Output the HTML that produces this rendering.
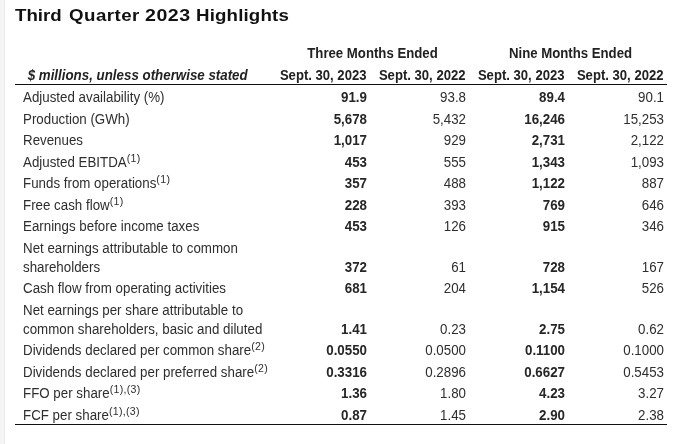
<!DOCTYPE html>
<html><head><meta charset="utf-8">
<style>
html,body{margin:0;padding:0;background:#fff;}
body{width:700px;height:444px;overflow:hidden;position:relative;font-family:"Liberation Sans",sans-serif;}
.wrap{position:absolute;left:0;top:0;width:700px;height:444px;will-change:transform;}
.band{position:absolute;left:0;top:0;width:4px;height:444px;background:#f5f5f5;border-right:1px solid #ececec;}
h1{position:absolute;left:0;top:5px;margin:0;font-size:17px;line-height:22px;font-weight:bold;color:#111;white-space:nowrap;width:300px;height:22px;}
h1 span{position:absolute;top:0;transform-origin:0 0;}
table{position:absolute;left:15px;top:42px;width:652px;border-collapse:collapse;font-size:13.33px;color:#2e2e2e;table-layout:fixed;}
td,th{padding:0;line-height:19.25px;vertical-align:bottom;white-space:nowrap;}
th{font-weight:bold;color:#222;}
tr.h1 th{height:21px;text-align:center;padding-left:5px;font-size:13.2px;}
tr.h2 th{height:21px;text-align:right;padding-right:3.5px;line-height:17.5px;font-size:13.1px;}
tr.h2 th.l{text-align:left;padding-left:12.7px;font-style:italic;font-size:13.33px;}
tr.h2{border-bottom:1px solid #111;}
tbody td{height:19.25px;text-align:right;padding:1.1px 3px 1.1px 0;}
tbody tr:first-child td{padding-top:1.6px;padding-bottom:2.1px;}
tbody td.l{text-align:left;padding-left:8px;white-space:nowrap;}
tbody td.b{font-weight:bold;color:#262626;}
tbody tr:last-child{border-bottom:1px solid #111;}
tbody tr:last-child td{padding-bottom:0;}
td.l i{font-style:normal;position:relative;top:1.5px;display:inline-block;}
sup{font-size:10.6px;letter-spacing:0.3px;line-height:0;vertical-align:baseline;position:relative;top:-5.4px;}
td.l i.s2{top:1px;}
tr.dn td{position:relative;top:0;}
tr.h1 th{transform:scaleY(1.065);transform-origin:50% 16px;}
tr.h2 th{transform:scaleY(1.065);transform-origin:50% 17px;}
tbody td{transform:scaleY(1.06);transform-origin:50% -3px;}
tbody tr:first-child td{transform-origin:50% -2.5px;}
tbody tr.two td{transform-origin:50% 16px;}
tbody tr.two td.l{transform:none;line-height:18.2px;padding:2.15px 0 2.15px 8px;}
tbody tr.two td.l i{transform:scaleY(1.06);transform-origin:50% 50%;}
</style></head><body>
<div class="band"></div>
<div class="wrap">
<h1><span style="left:15px;transform:scaleX(1.1)">Third</span> <span style="left:68.8px;letter-spacing:0.42px;transform:scaleX(1.1)">Quarter</span> <span style="left:145px;letter-spacing:0.45px;transform:scaleX(1.15)">2023</span> <span style="left:196.3px;letter-spacing:0.14px;transform:scaleX(1.1)">Highlights</span></h1>
<table>
<colgroup><col style="width:256px"><col style="width:99px"><col style="width:99px"><col style="width:99px"><col style="width:99px"></colgroup>
<thead>
<tr class="h1"><th></th><th colspan="2">Three Months Ended</th><th colspan="2">Nine Months Ended</th></tr>
<tr class="h2"><th class="l">$ millions, unless otherwise stated</th><th>Sept. 30, 2023</th><th>Sept. 30, 2022</th><th>Sept. 30, 2023</th><th>Sept. 30, 2022</th></tr>
</thead>
<tbody>
<tr><td class="l">Adjusted availability (%)</td><td class="b">91.9</td><td>93.8</td><td class="b">89.4</td><td>90.1</td></tr>
<tr><td class="l">Production (GWh)</td><td class="b">5,678</td><td>5,432</td><td class="b">16,246</td><td>15,253</td></tr>
<tr><td class="l">Revenues</td><td class="b">1,017</td><td>929</td><td class="b">2,731</td><td>2,122</td></tr>
<tr><td class="l">Adjusted EBITDA<sup>(1)</sup></td><td class="b">453</td><td>555</td><td class="b">1,343</td><td>1,093</td></tr>
<tr><td class="l">Funds from operations<sup>(1)</sup></td><td class="b">357</td><td>488</td><td class="b">1,122</td><td>887</td></tr>
<tr><td class="l">Free cash flow<sup>(1)</sup></td><td class="b">228</td><td>393</td><td class="b">769</td><td>646</td></tr>
<tr><td class="l">Earnings before income taxes</td><td class="b">453</td><td>126</td><td class="b">915</td><td>346</td></tr>
<tr class="two"><td class="l"><i>Net earnings attributable to common<br>shareholders</i></td><td class="b">372</td><td>61</td><td class="b">728</td><td>167</td></tr>
<tr class="dn"><td class="l">Cash flow from operating activities</td><td class="b">681</td><td>204</td><td class="b">1,154</td><td>526</td></tr>
<tr class="two"><td class="l"><i class="s2">Net earnings per share attributable to<br>common shareholders, basic and diluted</i></td><td class="b">1.41</td><td>0.23</td><td class="b">2.75</td><td>0.62</td></tr>
<tr><td class="l">Dividends declared per common share<sup>(2)</sup></td><td class="b">0.0550</td><td>0.0500</td><td class="b">0.1100</td><td>0.1000</td></tr>
<tr><td class="l">Dividends declared per preferred share<sup>(2)</sup></td><td class="b">0.3316</td><td>0.2896</td><td class="b">0.6627</td><td>0.5453</td></tr>
<tr><td class="l">FFO per share<sup>(1),(3)</sup></td><td class="b">1.36</td><td>1.80</td><td class="b">4.23</td><td>3.27</td></tr>
<tr><td class="l">FCF per share<sup>(1),(3)</sup></td><td class="b">0.87</td><td>1.45</td><td class="b">2.90</td><td>2.38</td></tr>
</tbody>
</table>
</div>
</body></html>
